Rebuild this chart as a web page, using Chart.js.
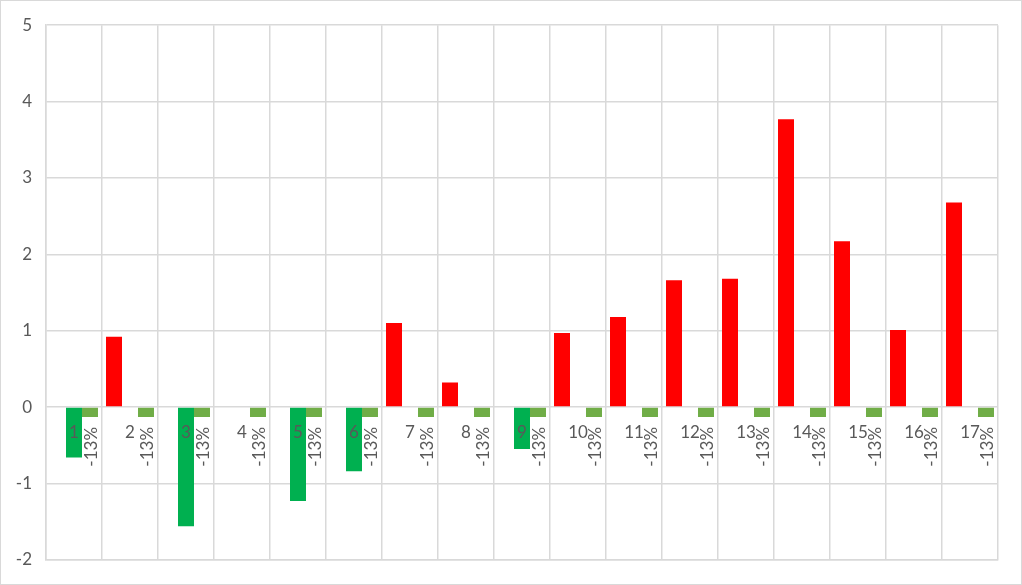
<!DOCTYPE html>
<html>
<head>
<meta charset="utf-8">
<script src="https://cdn.jsdelivr.net/npm/chart.js@4.4.1/dist/chart.umd.min.js"></script>
<style>
  html, body { margin: 0; padding: 0; background: #fff; }
  #wrap { position: relative; width: 1020px; height: 583px; border: 1px solid #D9D9D9; }
</style>
</head>
<body>
<div id="wrap"><canvas id="myChart"></canvas></div>
<script>
// categories and series
const categories = ['1', '2', '3', '4', '5', '6', '7', '8', '9', '10', '11', '12', '13', '14', '15', '16', '17'];
const upValues = [null, 0.92, null, null, null, null, 1.10, 0.32, null, 0.97, 1.18, 1.66, 1.68, 3.77, 2.17, 1.01, 2.68];
const downValues = [-0.66, null, -1.56, null, -1.23, -0.84, null, null, -0.55, null, null, null, null, null, null, null, null];
const baseValues = [-0.13, -0.13, -0.13, -0.13, -0.13, -0.13, -0.13, -0.13, -0.13, -0.13, -0.13, -0.13, -0.13, -0.13, -0.13, -0.13, -0.13];
const baseLabels = ['-13%', '-13%', '-13%', '-13%', '-13%', '-13%', '-13%', '-13%', '-13%', '-13%', '-13%', '-13%', '-13%', '-13%', '-13%', '-13%', '-13%'];
const yTicks = { min: -2, max: 5, step: 1 };

const textColor = '#595959';
const gridColor = '#D9D9D9';
const fontFamily = 'Lato, "Liberation Sans", sans-serif';

// category labels sit just under the zero line, "-13%" labels rotated under the small bars
const labelPlugin = {
    id: 'labelPlugin',
    afterDatasetsDraw(chart) {
        const ctx = chart.ctx;
        const x = chart.scales.x;
        const y = chart.scales.y;
        const zeroY = y.getPixelForValue(0);
        ctx.save();
        ctx.fillStyle = textColor;
        ctx.font = '17px ' + fontFamily;

        // category labels
        ctx.textAlign = 'center';
        ctx.textBaseline = 'middle';
        categories.forEach((c, i) => {
            ctx.fillText(c, x.getPixelForValue(i), zeroY + 25);
        });

        // data labels of the third series
        const meta = chart.getDatasetMeta(2);
        meta.data.forEach((bar, i) => {
            ctx.save();
            ctx.translate(bar.x + 2, bar.y + 10);
            ctx.rotate(-Math.PI / 2);
            ctx.textAlign = 'right';
            ctx.textBaseline = 'middle';
            ctx.fillText(baseLabels[i], 0, 0);
            ctx.restore();
        });
        ctx.restore();
    }
};

new Chart(document.getElementById('myChart').getContext('2d'), {
    type: 'bar',
    data: {
        labels: categories,
        datasets: [
            {
                label: 'Up',
                data: upValues,
                backgroundColor: '#FF0000',
                categoryPercentage: 0.857,
                barPercentage: 1
            },
            {
                label: 'Down',
                data: downValues,
                backgroundColor: '#00B050',
                categoryPercentage: 0.857,
                barPercentage: 1
            },
            {
                label: 'Base',
                data: baseValues,
                backgroundColor: '#70AD47',
                categoryPercentage: 0.857,
                barPercentage: 1
            }
        ]
    },
    options: {
        responsive: true,
        maintainAspectRatio: false,
        animation: false,
        layout: {
            padding: { top: 22, right: 23, bottom: 22, left: 0 }
        },
        plugins: {
            legend: { display: false },
            tooltip: { enabled: false }
        },
        scales: {
            x: {
                offset: true,
                grid: { color: gridColor, lineWidth: 1.5, drawTicks: false, offset: true },
                border: { color: gridColor, width: 1.5 },
                ticks: { display: false },
                afterFit: scale => { scale.height = 0; }
            },
            y: {
                min: yTicks.min,
                max: yTicks.max,
                grid: { color: gridColor, lineWidth: 1.5, drawTicks: false },
                border: { color: gridColor, width: 1.5 },
                ticks: {
                    stepSize: yTicks.step,
                    color: textColor,
                    padding: 14,
                    font: { size: 17, family: fontFamily }
                },
                afterFit: scale => { scale.width = 45; }
            }
        }
    },
    plugins: [labelPlugin]
});
</script>
</body>
</html>
